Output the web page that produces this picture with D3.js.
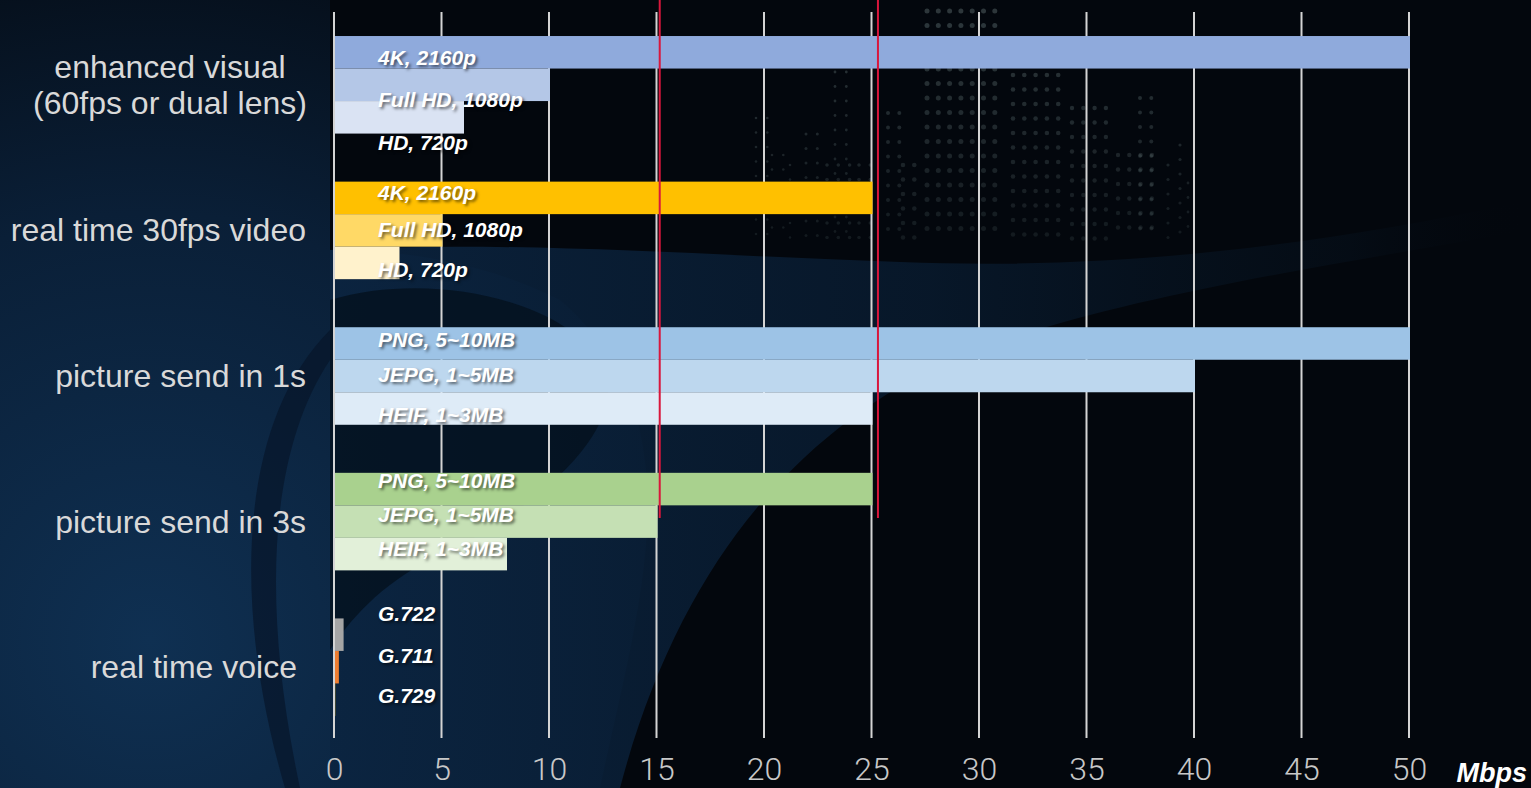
<!DOCTYPE html>
<html>
<head>
<meta charset="utf-8">
<script src="https://cdn.jsdelivr.net/npm/d3@7"></script>
<style>
  html, body { margin: 0; padding: 0; background: #03070d; overflow: hidden; }
  svg { display: block; }
  .barlabel { font-family: "Liberation Sans", Arial, sans-serif; font-weight: bold; font-style: italic;
              font-size: 21px; fill: #ffffff; text-shadow: 2px 2px 3px rgba(0,0,0,0.55); }
</style>
</head>
<body>
<script>
const w = 1531;
const h = 788;

// chart data
const groups = ["enhanced visual", "real time 30fps video", "picture send in 1s", "picture send in 3s", "real time voice"];
const groupLines = [["enhanced visual", "(60fps or dual lens)"], ["real time 30fps video"], ["picture send in 1s"], ["picture send in 3s"], ["real time voice"]];
const seriesNames = [
  ["4K, 2160p", "Full HD, 1080p", "HD, 720p"],
  ["4K, 2160p", "Full HD, 1080p", "HD, 720p"],
  ["PNG, 5~10MB", "JEPG, 1~5MB", "HEIF, 1~3MB"],
  ["PNG, 5~10MB", "JEPG, 1~5MB", "HEIF, 1~3MB"],
  ["G.722", "G.711", "G.729"]
];
const seriesValues = [
  [50, 10, 6],
  [25, 5, 3],
  [50, 40, 25],
  [25, 15, 8],
  [0.4, 0.18, 0.01]
];
const barColors = [
  ["#8faadc", "#b4c7e7", "#dae3f3"],
  ["#ffc000", "#ffd966", "#fff2cc"],
  ["#9dc3e6", "#bdd7ee", "#deebf7"],
  ["#a9d18e", "#c5e0b4", "#e2f0d9"],
  ["#a5a5a5", "#ed7d31", "#ffc000"]
];
const xTicks = [0, 5, 10, 15, 20, 25, 30, 35, 40, 45, 50];
const refLines = [15.15, 25.3];
const unitLabel = "Mbps";

// layout (hand placed text boxes in the original slide)
const labelNudge = [[5, 15, 25], [-5, -1, 7], [-4, -2, 5.5], [-9, -7.5, -6], [-21.5, -12, -4]];

const svg = d3.select("body").append("svg")
  .attr("width", w)
  .attr("height", h);

// ---- background ----
const defs = svg.append("defs");
const glow = defs.append("radialGradient").attr("id", "glow")
  .attr("cx", 150).attr("cy", 640).attr("r", 950).attr("gradientUnits", "userSpaceOnUse");
glow.append("stop").attr("offset", "0").attr("stop-color", "#0f3052");
glow.append("stop").attr("offset", "0.45").attr("stop-color", "#0a1f37");
glow.append("stop").attr("offset", "0.8").attr("stop-color", "#040a12");
glow.append("stop").attr("offset", "1").attr("stop-color", "#03070d");

const band = defs.append("linearGradient").attr("id", "band")
  .attr("x1", 330).attr("y1", 0).attr("x2", 1531).attr("y2", 0).attr("gradientUnits", "userSpaceOnUse");
band.append("stop").attr("offset", "0").attr("stop-color", "#0b2440").attr("stop-opacity", 0.9);
band.append("stop").attr("offset", "0.5").attr("stop-color", "#08192c").attr("stop-opacity", 0.9);
band.append("stop").attr("offset", "0.85").attr("stop-color", "#06111d").attr("stop-opacity", 0.5);
band.append("stop").attr("offset", "1").attr("stop-color", "#03070d").attr("stop-opacity", 0);

svg.append("rect").attr("width", w).attr("height", h).attr("fill", "url(#glow)");
// dark area right of the axis
svg.append("path")
  .attr("d", "M330,0 L1531,0 L1531,788 L600,788 C640,600 700,420 560,300 C480,260 400,250 330,250 Z")
  .attr("fill", "#03070d");
// blue swoosh
svg.append("path")
  .attr("d", "M330,250 C500,240 700,255 900,262 C1100,270 1300,250 1531,200 L1531,230 C1300,270 1100,300 950,360 C800,430 680,560 620,788 L330,788 Z")
  .attr("fill", "url(#band)");
// dark ring inside the swoosh
svg.append("path")
  .attr("d", "M330,300 C430,270 560,300 600,360 C640,430 520,520 430,560 C380,585 350,620 330,650 Z")
  .attr("fill", "#04101c").attr("opacity", 0.75);
svg.append("path")
  .attr("d", "M330,330 C240,420 230,600 285,788 L300,788 C260,600 270,450 330,360 Z")
  .attr("fill", "#07162a").attr("opacity", 0.7);

// dot matrix skyline
const city = svg.append("g").attr("fill", "#8aa3a3");
const buildings = [
  [756, 2, 118, 1.3], [772, 2, 155, 1.3], [790, 1, 165, 1.3], [806, 2, 134, 1.5], [827, 3, 165, 1.8],
  [835, 2, 72, 1.4], [859, 2, 165, 1.8], [888, 2, 113, 2], [903, 2, 165, 2.3],
  [927, 7, 11, 2.5], [1013, 5, 75, 2.3], [1072, 4, 108, 2.2], [1118, 4, 155, 2.2],
  [1140, 2, 98, 2], [1168, 1, 165, 1.6], [1180, 1, 145, 1.6], [1188, 1, 183, 1.4]
];
buildings.forEach(function(b) {
  for (let c = 0; c < b[1]; c++) {
    for (let yy = b[2]; yy <= 240; yy += 14.5) {
      city.append("circle")
        .attr("cx", b[0] + c * 11.3)
        .attr("cy", yy)
        .attr("r", b[3])
        .attr("opacity", 0.12 + 0.2 * (240 - yy) / 240);
    }
  }
});

// ---- scales ----
const xScale = d3.scaleLinear().domain([0, 50]).range([334, 1409]);
const yScale = d3.scaleBand().domain(groups).range([12, 740]).paddingInner(0.33).paddingOuter(0.165);
const ySub = d3.scaleBand().domain([0, 1, 2]).range([0, yScale.bandwidth()]);

// gridlines
svg.append("g").selectAll("line")
  .data(xTicks)
  .enter()
  .append("line")
  .attr("x1", (d) => xScale(d))
  .attr("x2", (d) => xScale(d))
  .attr("y1", 12)
  .attr("y2", 738)
  .attr("stroke", "#d4d4d4")
  .attr("stroke-width", 2);

// bars
const rows = [];
groups.forEach(function(g, gi) {
  seriesValues[gi].forEach(function(v, si) {
    rows.push({ g: g, gi: gi, si: si, v: v, name: seriesNames[gi][si], color: barColors[gi][si] });
  });
});

svg.append("g").selectAll("rect")
  .data(rows)
  .enter()
  .append("rect")
  .attr("x", xScale(0) + 1)
  .attr("y", (d) => yScale(d.g) + ySub(d.si))
  .attr("width", (d) => Math.max(0, xScale(d.v) - xScale(0)))
  .attr("height", ySub.bandwidth())
  .attr("fill", (d) => d.color);

// reference lines
svg.append("g").selectAll("line")
  .data(refLines)
  .enter()
  .append("line")
  .attr("x1", (d) => xScale(d))
  .attr("x2", (d) => xScale(d))
  .attr("y1", 0)
  .attr("y2", 518)
  .attr("stroke", "#d9173c")
  .attr("stroke-width", 2);

// bar labels
svg.append("g").selectAll("text")
  .data(rows)
  .enter()
  .append("text")
  .attr("class", "barlabel")
  .attr("x", 378)
  .attr("y", (d) => yScale(d.g) + ySub(d.si) + ySub.bandwidth() / 2 + labelNudge[d.gi][d.si] + 7.5)
  .text((d) => d.name);

// category labels
const cat = svg.append("g")
  .style("font-family", "'Liberation Sans', Arial, sans-serif")
  .style("font-size", "32px")
  .attr("fill", "#d9d9d9");
groupLines.forEach(function(lines, gi) {
  const cy = yScale(groups[gi]) + yScale.bandwidth() / 2;
  if (lines.length > 1) {
    lines.forEach(function(t, li) {
      cat.append("text")
        .attr("x", 170)
        .attr("y", cy + (li - 0.5) * 36 + 11)
        .attr("text-anchor", "middle")
        .text(t);
    });
  } else {
    cat.append("text")
      .attr("x", gi === 4 ? 297 : 306)
      .attr("y", cy + 11)
      .attr("text-anchor", "end")
      .text(lines[0]);
  }
});

// x axis tick labels
const xAxis = d3.axisBottom(xScale).tickValues(xTicks).tickSize(0).tickPadding(0);
const ax = svg.append("g")
  .attr("transform", "translate(0,757)")
  .call(xAxis);
ax.select(".domain").remove();
ax.selectAll("text")
  .attr("dy", "0.71em")
  .style("font-family", "Roboto, 'Liberation Sans', sans-serif")
  .style("font-weight", "300")
  .style("font-size", "32px")
  .attr("fill", "#c8c8c8");

svg.append("text")
  .attr("x", 1527)
  .attr("y", 782)
  .attr("text-anchor", "end")
  .style("font-family", "'Liberation Sans', Arial, sans-serif")
  .style("font-weight", "bold")
  .style("font-style", "italic")
  .style("font-size", "27px")
  .attr("fill", "#ffffff")
  .text(unitLabel);
</script>
</body>
</html>
